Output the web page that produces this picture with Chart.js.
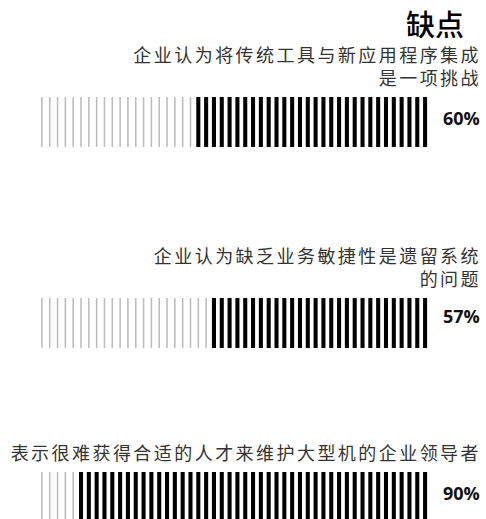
<!DOCTYPE html>
<html>
<head>
<meta charset="utf-8">
<script src="https://cdn.jsdelivr.net/npm/chart.js@4/dist/chart.umd.min.js"></script>
<style>
  html, body { margin: 0; padding: 0; background: #fff; width: 486px; height: 519px; overflow: hidden; }
  .wrap { position: relative; width: 486px; height: 519px; }
  .title { position: absolute; right: 22px; top: 5px; font-family: "Noto Sans CJK SC"; font-size: 29px; line-height: 36px; font-weight: 500; color: #000; }
  .label { position: absolute; right: 5px; font-family: "Noto Sans CJK SC"; font-size: 18px; line-height: 23px; letter-spacing: 2.45px; color: #333; text-align: right; white-space: nowrap; }
  .pct { position: absolute; left: 443px; font-family: "Open Sans"; font-weight: 700; font-size: 18px; line-height: 24px; color: #111; }
  canvas.row { position: absolute; left: 38px; }
</style>
</head>
<body>
<div class="wrap" id="wrap">
  <div class="title" id="title"></div>
</div>
<script>
// ---- data ----
const chartTitle = '缺点';
const categories = [
  ['企业认为将传统工具与新应用程序集成', '是一项挑战'],
  ['企业认为缺乏业务敏捷性是遗留系统', '的问题'],
  ['表示很难获得合适的人才来维护大型机的企业领导者']
];
const percentages = [60, 57, 90];
const markCount = 50;

// ---- layout (positions only) ----
const rowTops = [97, 298, 472];
const pctCenters = [118, 316, 493];
const rowHeight = 50;
const canvasWidth = 391;

document.getElementById('title').textContent = chartTitle;
const wrap = document.getElementById('wrap');

categories.forEach((lines, r) => {
  const lab = document.createElement('div');
  lab.className = 'label';
  lab.innerHTML = lines.map(l => '<div>' + l + '</div>').join('');
  lab.style.top = (rowTops[r] - 8 - 23 * lines.length) + 'px';
  wrap.appendChild(lab);

  const p = document.createElement('div');
  p.className = 'pct';
  p.textContent = percentages[r] + '%';
  p.style.top = (pctCenters[r] - 12) + 'px';
  wrap.appendChild(p);

  const cv = document.createElement('canvas');
  cv.className = 'row';
  cv.width = canvasWidth;
  cv.height = rowHeight;
  cv.style.top = rowTops[r] + 'px';
  cv.style.width = canvasWidth + 'px';
  cv.style.height = rowHeight + 'px';
  wrap.appendChild(cv);

  const blackCount = Math.round(percentages[r] / 100 * markCount);
  const labels = Array.from({length: markCount}, (_, i) => String(i + 1));
  const greyData = labels.map((_, i) => i < markCount - blackCount ? 1 : null);
  const blackData = labels.map((_, i) => i >= markCount - blackCount ? 1 : null);

  new Chart(cv, {
    type: 'bar',
    data: {
      labels: labels,
      datasets: [
        { data: greyData, backgroundColor: '#bcbcbc', barPercentage: 0.2, categoryPercentage: 1 },
        { data: blackData, backgroundColor: '#000000', barPercentage: 0.52, categoryPercentage: 1 }
      ]
    },
    options: {
      responsive: false,
      animation: false,
      devicePixelRatio: 1,
      layout: { padding: 0 },
      plugins: { legend: { display: false }, tooltip: { enabled: false } },
      scales: {
        x: { display: false, stacked: true, offset: true },
        y: { display: false, min: 0, max: 1 }
      }
    }
  });
});
</script>
</body>
</html>
